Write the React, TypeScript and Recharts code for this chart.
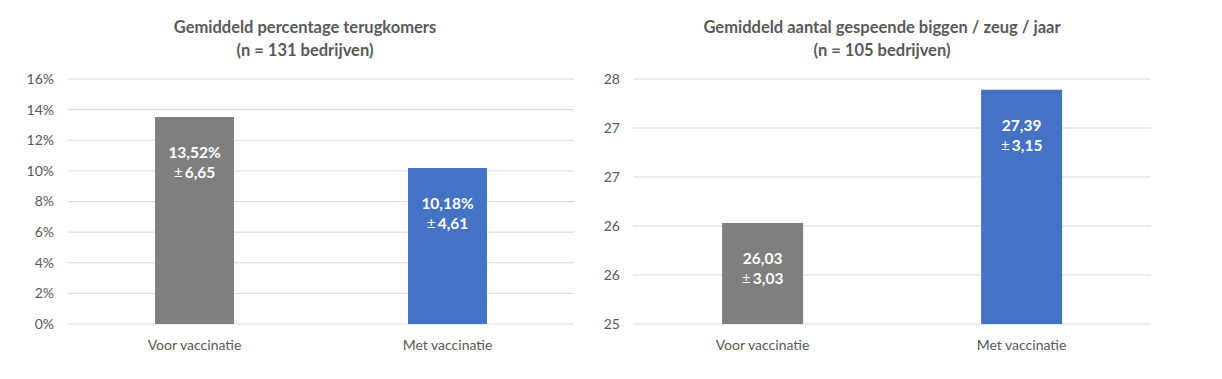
import { BarChart, Bar, Cell, XAxis, YAxis, CartesianGrid, LabelList } from "recharts";

const categories = ["Voor vaccinatie", "Met vaccinatie"];
const barColors = ["#7F7F7F", "#4472C4"];

const terugkomersMean = [13.52, 10.18];
const terugkomersSd = [6.65, 4.61];
const percentTicks = [0, 2, 4, 6, 8, 10, 12, 14, 16];

const biggenMean = [26.03, 27.39];
const biggenSd = [3.03, 3.15];
const biggenTicks = [25, 25.5, 26, 26.5, 27, 27.5];

const FONT = "Lato, 'Open Sans', sans-serif";
const TEXT = "#595959";

const terugkomersData = categories.map((name, i) => ({
  name,
  value: terugkomersMean[i],
  sd: terugkomersSd[i],
}));
const biggenData = categories.map((name, i) => ({
  name,
  value: biggenMean[i],
  sd: biggenSd[i],
}));

const comma = (v: number) => v.toFixed(2).replace(".", ",");

const meanLabel = (suffix: string) => (props: any) => {
  const { x, y, width, value } = props;
  return (
    <text
      x={Number(x) + Number(width) / 2}
      y={Number(y) + 35}
      textAnchor="middle"
      dominantBaseline="central"
      fill="#fff"
      fontSize={15.5}
      fontWeight={700}
      fontFamily={FONT}
    >
      {comma(Number(value)) + suffix}
    </text>
  );
};

const sdLabel = (props: any) => {
  const { x, y, width, value } = props;
  return (
    <text
      x={Number(x) + Number(width) / 2}
      y={Number(y) + 55}
      textAnchor="middle"
      dominantBaseline="central"
      fill="#fff"
      fontSize={15.5}
      fontWeight={700}
      fontFamily={FONT}
    >
      <tspan fontWeight={400}>±</tspan>
      <tspan dx={2}>{comma(Number(value))}</tspan>
    </text>
  );
};

const titleStyle: React.CSSProperties = {
  position: "absolute",
  textAlign: "center",
  color: TEXT,
  fontFamily: FONT,
  fontWeight: 700,
  fontSize: 16.5,
  lineHeight: "23px",
  whiteSpace: "nowrap",
  transform: "translateX(-50%)",
};

const tickStyle = { fill: TEXT, fontSize: 14, fontFamily: FONT };

export default function App() {
  return (
    <div
      style={{
        position: "absolute",
        left: 0,
        top: 0,
        width: 1222,
        height: 379,
        background: "#fff",
      }}
    >
      <div style={{ ...titleStyle, left: 305, top: 16 }}>
        Gemiddeld percentage terugkomers
        <br />
        (n = 131 bedrijven)
      </div>
      <div style={{ ...titleStyle, left: 882, top: 16 }}>
        Gemiddeld aantal gespeende biggen / zeug / jaar
        <br />
        (n = 105 bedrijven)
      </div>

      <div style={{ position: "absolute", left: 0, top: 0 }}>
        <BarChart
          width={610}
          height={379}
          data={terugkomersData}
          barCategoryGap="34.4%"
          margin={{ top: 79, right: 36, bottom: 25, left: 0 }}
        >
          <CartesianGrid vertical={false} stroke="#D9D9D9" />
          <XAxis
            dataKey="name"
            axisLine={false}
            tickLine={false}
            height={30}
            tickMargin={10}
            tick={tickStyle}
          />
          <YAxis
            width={68}
            domain={[0, 16]}
            ticks={percentTicks}
            axisLine={false}
            tickLine={false}
            tickMargin={8}
            tick={tickStyle}
            tickFormatter={(v) => `${v}%`}
          />
          <Bar dataKey="value" isAnimationActive={false}>
            {terugkomersData.map((d, i) => (
              <Cell key={d.name} fill={barColors[i]} />
            ))}
            <LabelList dataKey="value" content={meanLabel("%")} />
            <LabelList dataKey="sd" content={sdLabel} />
          </Bar>
        </BarChart>
      </div>

      <div style={{ position: "absolute", left: 600, top: 0 }}>
        <BarChart
          width={622}
          height={379}
          data={biggenData}
          barCategoryGap="34.4%"
          margin={{ top: 79, right: 71, bottom: 25, left: 0 }}
        >
          <CartesianGrid vertical={false} stroke="#D9D9D9" />
          <XAxis
            dataKey="name"
            axisLine={false}
            tickLine={false}
            height={30}
            tickMargin={10}
            tick={tickStyle}
          />
          <YAxis
            width={33}
            domain={[25, 27.5]}
            ticks={biggenTicks}
            allowDataOverflow
            axisLine={false}
            tickLine={false}
            tickMargin={7}
            tick={tickStyle}
            tickFormatter={(v) => `${Math.round(v)}`}
          />
          <Bar dataKey="value" isAnimationActive={false}>
            {biggenData.map((d, i) => (
              <Cell key={d.name} fill={barColors[i]} />
            ))}
            <LabelList dataKey="value" content={meanLabel("")} />
            <LabelList dataKey="sd" content={sdLabel} />
          </Bar>
        </BarChart>
      </div>
    </div>
  );
}
